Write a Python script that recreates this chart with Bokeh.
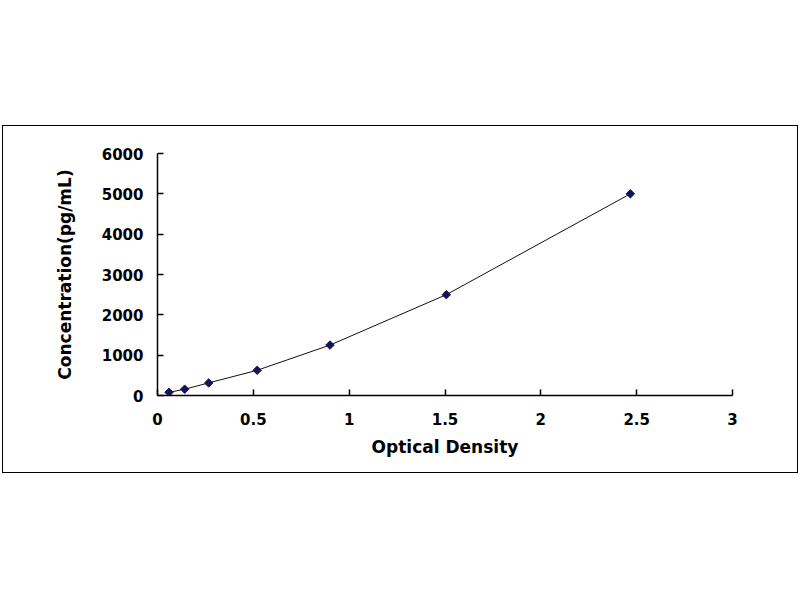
import math
from bokeh.plotting import figure
from bokeh.models import Range1d, FixedTicker
from bokeh.layouts import column
from bokeh.embed import file_html
from bokeh.resources import INLINE

# Data
od = [0.06, 0.142, 0.267, 0.52, 0.90, 1.507, 2.467]
conc = [78, 156, 312, 625, 1250, 2500, 5000]
x_ticks = [0, 0.5, 1, 1.5, 2, 2.5, 3]
y_ticks = [0, 1000, 2000, 3000, 4000, 5000, 6000]
x_title = "Optical Density"
y_title = "Concentration(pg/mL)"

FONT = "DejaVu Sans"

p = figure(width=794, height=346, frame_width=575, frame_height=242,
           x_range=Range1d(0, 3), y_range=Range1d(0, 6000),
           output_backend="svg", toolbar_location=None,
           min_border_left=154, min_border_right=65,
           min_border_top=27, min_border_bottom=77)
p.background_fill_color = "white"
p.border_fill_color = "white"
p.outline_line_color = None
p.xgrid.visible = False
p.ygrid.visible = False

for ax in (p.xaxis[0], p.yaxis[0]):
    ax.axis_line_color = "black"
    ax.axis_line_width = 1.5
    ax.major_tick_line_color = "black"
    ax.major_tick_line_width = 1.5
    ax.major_tick_in = 6
    ax.major_tick_out = 0
    ax.minor_tick_line_color = None
    ax.major_label_text_font = FONT
    ax.major_label_text_font_style = "bold"
    ax.major_label_text_font_size = "15px"
    ax.major_label_text_color = "black"
    ax.axis_label_text_font = FONT
    ax.axis_label_text_font_style = "bold"
    ax.axis_label_text_font_size = "17px"
    ax.axis_label_text_color = "black"

p.xaxis[0].ticker = FixedTicker(ticks=x_ticks)
p.yaxis[0].ticker = FixedTicker(ticks=y_ticks)
p.xaxis[0].major_label_overrides = {0: "0", 1: "1", 2: "2", 3: "3"}
p.xaxis[0].major_label_standoff = 17
p.yaxis[0].major_label_standoff = 14
p.xaxis[0].axis_label = x_title
p.xaxis[0].axis_label_standoff = 9
p.yaxis[0].axis_label = y_title
p.yaxis[0].axis_label_standoff = 24

p.line(od, conc, line_color="#111111", line_width=1)
p.scatter(od, conc, marker="square", size=6, angle=math.pi / 4,
          fill_color="#14145a", line_color="#14145a")

layout = column(p, styles={"border": "1px solid #000000"})
layout.margin = (125, 0, 0, 2)

open("out.html", "w").write(file_html(layout, INLINE))
